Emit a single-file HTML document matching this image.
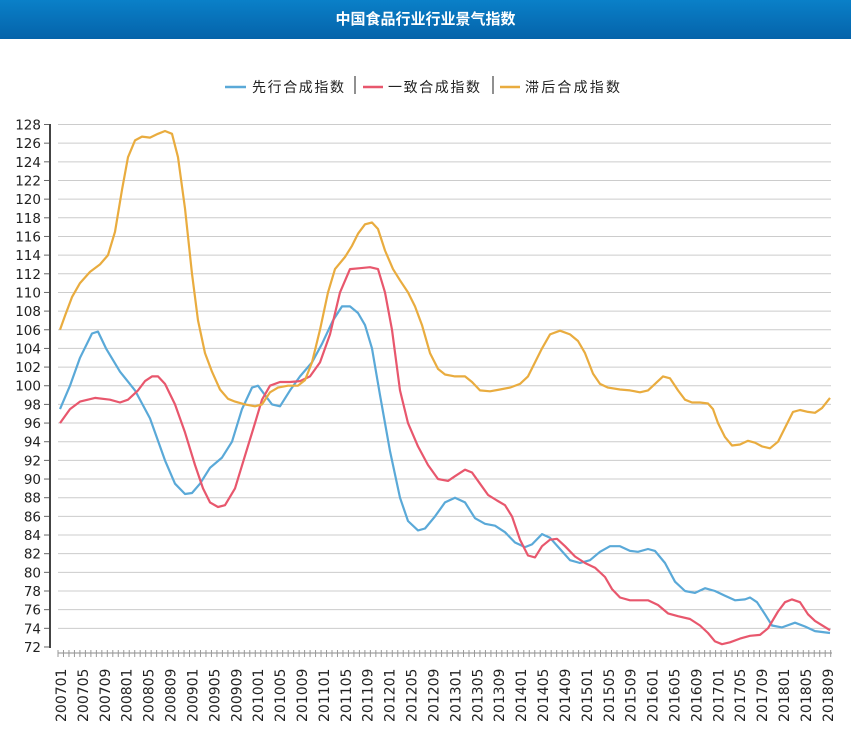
<!DOCTYPE html>
<html><head><meta charset="utf-8"><style>
body{margin:0;width:851px;height:734px;background:#fff;overflow:hidden;font-family:"Liberation Sans","Noto Sans CJK SC",sans-serif}
.bar{position:absolute;left:0;top:0;width:851px;height:39px;background:linear-gradient(#0a80c8,#0563aa);color:#fff;font-weight:bold;font-size:15px;text-align:center;line-height:38px;font-family:"Noto Sans CJK SC",sans-serif}
</style></head><body>
<div class="bar">中国食品行业行业景气指数</div>
<svg id="s" width="851" height="734" style="position:absolute;left:0;top:0">
<g font-family="Noto Sans CJK SC, sans-serif" font-size="14" fill="#222">
<line x1="225" y1="87" x2="246" y2="87" stroke="#5aa9d8" stroke-width="2.5"/><text x="252" y="92" textLength="92">先行合成指数</text>
<line x1="355" y1="76" x2="355" y2="94" stroke="#222"/>
<line x1="363" y1="87" x2="383" y2="87" stroke="#e8576d" stroke-width="2.5"/><text x="388" y="92" textLength="92">一致合成指数</text>
<line x1="493" y1="76" x2="493" y2="94" stroke="#222"/>
<line x1="500" y1="87" x2="520" y2="87" stroke="#e9ac3f" stroke-width="2.5"/><text x="525" y="92" textLength="95">滞后合成指数</text>
</g>
<g id="g"></g>
</svg>
<script>
var g=document.getElementById('g'),h='';
function Y(v){return 124.5+(128-v)*9.33;}
for(var v=72;v<=128;v+=2){var y=Y(v);
 if(v>72)h+='<line x1="58" y1="'+y+'" x2="831" y2="'+y+'" stroke="#ccc"/>';
 h+='<line x1="44" y1="'+y+'" x2="50" y2="'+y+'" stroke="#666"/>';
 h+='<text x="41" y="'+(y+5)+'" text-anchor="end" font-size="13.5" font-family="DejaVu Sans,sans-serif" fill="#222">'+v+'</text>';}
h+='<line x1="50" y1="124" x2="50" y2="648" stroke="#444" stroke-width="2"/>';
h+='<line x1="58" y1="653" x2="832" y2="653" stroke="#888"/>';
for(var m=0;m<=141;m++){var x=58+m*5.48;h+='<line x1="'+x+'" y1="650" x2="'+x+'" y2="657" stroke="#999"/>';}
for(var i=0;i<36;i++){var mm=i*4,yr=2007+Math.floor(mm/12),mo=mm%12+1;var lab=''+yr+(mo<10?'0':'')+mo;var x=61+i*21.91;
 h+='<text transform="translate('+(x+5)+',722) rotate(-90)" font-size="14" font-family="DejaVu Sans,sans-serif" fill="#222">'+lab+'</text>';}
function P(a,c){var p=[];for(var i=0;i<a.length;i+=2)p.push(a[i]+','+Y(a[i+1]).toFixed(1));h+='<polyline fill="none" stroke="'+c+'" stroke-width="2.2" stroke-linejoin="round" points="'+p.join(' ')+'"/>';}
P([60,97.5,70,100,80,103,92,105.6,98,105.8,106,104,120,101.5,135,99.5,150,96.5,165,92,175,89.5,185,88.4,192,88.5,200,89.5,210,91.2,222,92.3,232,94,242,97.5,252,99.8,258,100,265,99,272,98,280,97.8,290,99.5,300,101,312,102.5,322,104.5,333,107,342,108.5,350,108.5,358,107.8,365,106.5,372,104,380,99,390,93,400,88,408,85.5,418,84.5,425,84.7,435,86,445,87.5,455,88,465,87.5,475,85.8,485,85.2,495,85,505,84.3,515,83.2,525,82.7,532,83,542,84.1,550,83.7,560,82.5,570,81.3,580,81,590,81.3,600,82.2,610,82.8,620,82.8,630,82.3,638,82.2,648,82.5,655,82.3,665,81,675,79,685,78,695,77.8,705,78.3,715,78,725,77.5,735,77,745,77.1,750,77.3,757,76.8,765,75.5,772,74.3,782,74.1,795,74.6,805,74.2,815,73.7,830,73.5],'#5aa9d8');
P([60,96,70,97.5,80,98.3,95,98.7,110,98.5,120,98.2,128,98.5,138,99.5,145,100.5,152,101,158,101,165,100.2,175,98,185,95,195,91.5,203,89,210,87.5,218,87,225,87.2,235,89,245,92.5,255,96,262,98.5,270,100,280,100.4,290,100.4,300,100.5,310,101,320,102.5,330,105.5,340,110,350,112.5,360,112.6,370,112.7,378,112.5,385,110,392,106,400,99.5,408,96,418,93.5,428,91.5,438,90,448,89.8,455,90.3,465,91,472,90.7,480,89.5,488,88.3,497,87.7,505,87.2,512,86,520,83.5,528,81.8,535,81.6,542,82.8,550,83.5,557,83.6,565,82.8,575,81.7,585,81,595,80.5,605,79.5,612,78.2,620,77.3,630,77,640,77,648,77,658,76.5,668,75.6,678,75.3,690,75,700,74.3,708,73.5,715,72.6,722,72.3,730,72.5,740,72.9,750,73.2,760,73.3,768,74,778,75.8,785,76.8,792,77.1,800,76.8,808,75.5,815,74.8,830,73.8],'#e8576d');
P([60,106,65,107.5,72,109.5,80,111,90,112.2,100,113,108,114,115,116.5,122,121,128,124.5,135,126.3,142,126.7,150,126.6,158,127,165,127.3,172,127,178,124.5,185,119,192,112,198,107,205,103.5,212,101.5,220,99.6,228,98.6,235,98.3,245,98,255,97.8,262,98,270,99.3,278,99.8,288,100,298,100,305,100.6,312,102.5,320,106,328,110,335,112.5,345,113.8,352,115,358,116.3,365,117.3,372,117.5,378,116.8,385,114.5,393,112.5,400,111.3,408,110,415,108.5,422,106.5,430,103.5,438,101.8,445,101.2,455,101,465,101,472,100.4,480,99.5,490,99.4,500,99.6,510,99.8,520,100.2,528,101,535,102.5,542,104,550,105.5,560,105.9,570,105.5,578,104.8,585,103.5,593,101.3,600,100.2,608,99.8,620,99.6,630,99.5,640,99.3,648,99.5,655,100.2,663,101,670,100.8,678,99.5,685,98.5,692,98.2,700,98.2,708,98.1,713,97.5,718,96,725,94.5,732,93.6,740,93.7,748,94.1,755,93.9,762,93.5,770,93.3,778,94,785,95.5,793,97.2,800,97.4,808,97.2,815,97.1,822,97.6,830,98.7],'#e9ac3f');
g.innerHTML=h;
</script>
</body></html>
